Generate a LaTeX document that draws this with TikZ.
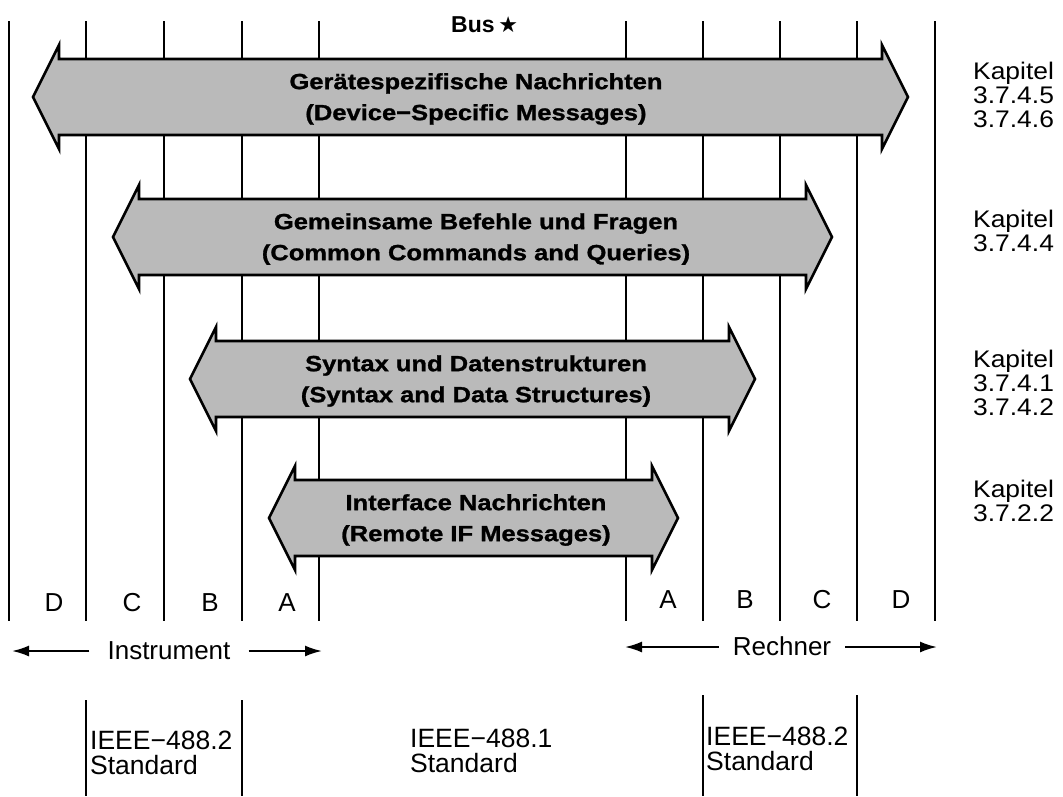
\documentclass[tikz,border=0pt]{standalone}
\usepackage{fontspec}
\setmainfont{Liberation Sans}
\newfontfamily\boldwide[FakeStretch=1.16,FakeBold=1.2]{Liberation Sans}
\newfontfamily\regwide[FakeStretch=1.1]{Liberation Sans}
\newfontfamily\starfont{DejaVu Sans}
\usetikzlibrary{arrows.meta}
\newcommand\msgarrow[3]{% x1, x2, yc
  \draw[arrowshape] (#1,#3) -- ({#1+26},{#3-52}) -- ({#1+26},{#3-38}) -- ({#2-26},{#3-38})
    -- ({#2-26},{#3-52}) -- (#2,#3) -- ({#2-26},{#3+52}) -- ({#2-26},{#3+38})
    -- ({#1+26},{#3+38}) -- ({#1+26},{#3+52}) -- cycle;}
\begin{document}
\begin{tikzpicture}[x=1pt,y=-1pt,
  busline/.style={line width=1.1pt,black},
  arrowshape/.style={draw=black,line width=2.6pt,fill=black!27,line join=miter},
  msg/.style={font=\boldwide\bfseries\fontsize{22}{31}\selectfont,align=center,inner sep=0},
  kap/.style={font=\regwide\fontsize{24}{24}\selectfont,align=left,anchor=north west,inner sep=0},
  col/.style={font=\fontsize{26}{26}\selectfont,anchor=base,inner sep=0},
  std/.style={font=\fontsize{26.5}{25}\selectfont,align=left,anchor=north west,inner sep=0},
  side/.style={font=\fontsize{26}{26}\selectfont,anchor=base,inner ysep=0},
  dir/.style={line width=2pt,-{Latex[length=17pt,width=11pt]}}]
\useasboundingbox (0,0) rectangle (1063,796);
% bus lines
\foreach \x in {9,86,164,242,319,626,703,780,857,935} \draw[busline] (\x,21) -- (\x,621);
\foreach \x in {86,242} \draw[busline] (\x,700) -- (\x,796);
\foreach \x in {703,857} \draw[busline] (\x,695) -- (\x,796);
% message arrows
\msgarrow{33}{908}{97}
\msgarrow{113}{832}{237}
\msgarrow{190}{755}{379}
\msgarrow{269}{678}{518}
\node[msg] (m1) at (476,99) {Gerätespezifische Nachrichten\\(Device−Specific Messages)};
\node[msg] (m2) at (476,239) {Gemeinsame Befehle und Fragen\\(Common Commands and Queries)};
\node[msg] (m3) at (476,381) {Syntax und Datenstrukturen\\(Syntax and Data Structures)};
\node[msg] (m4) at (476,520) {Interface Nachrichten\\(Remote IF Messages)};
% title
\node[anchor=base west,inner sep=0,font=\bfseries\fontsize{23}{23}\selectfont] (bus) at (451,32)
  {Bus\,{\starfont\fontsize{22}{22}\selectfont ★}};
% chapters
\node[kap] (k1) at (973,62) {Kapitel\\3.7.4.5\\3.7.4.6};
\node[kap] (k2) at (973,210) {Kapitel\\3.7.4.4};
\node[kap] (k3) at (973,350) {Kapitel\\3.7.4.1\\3.7.4.2};
\node[kap] (k4) at (973,480) {Kapitel\\3.7.2.2};
% column letters
\node[col] (lD) at (54,611) {D};
\node[col] (lC) at (132,611) {C};
\node[col] (lB) at (210,611) {B};
\node[col] (lA) at (287,611) {A};
\node[col] (rA) at (668,608) {A};
\node[col] (rB) at (745,608) {B};
\node[col] (rC) at (822,608) {C};
\node[col] (rD) at (901,608) {D};
% sides
\node[side,inner xsep=18pt] (instr) at (169,659) {Instrument};
\coordinate (iL) at (12,651);
\coordinate (iR) at (322,651);
\draw[dir] (instr.west |- iL) -- (iL);
\draw[dir] (instr.east |- iR) -- (iR);
\node[side,inner xsep=14pt] (rech) at (782,655) {Rechner};
\coordinate (rL) at (625,647);
\coordinate (rR) at (937,647);
\draw[dir] (rech.west |- rL) -- (rL);
\draw[dir] (rech.east |- rR) -- (rR);
% standards
\node[std] (s1) at (90,731) {IEEE−488.2\\Standard};
\node[std] (s2) at (410,729) {IEEE−488.1\\Standard};
\node[std] (s3) at (706,727) {IEEE−488.2\\Standard};
\end{tikzpicture}
\end{document}
